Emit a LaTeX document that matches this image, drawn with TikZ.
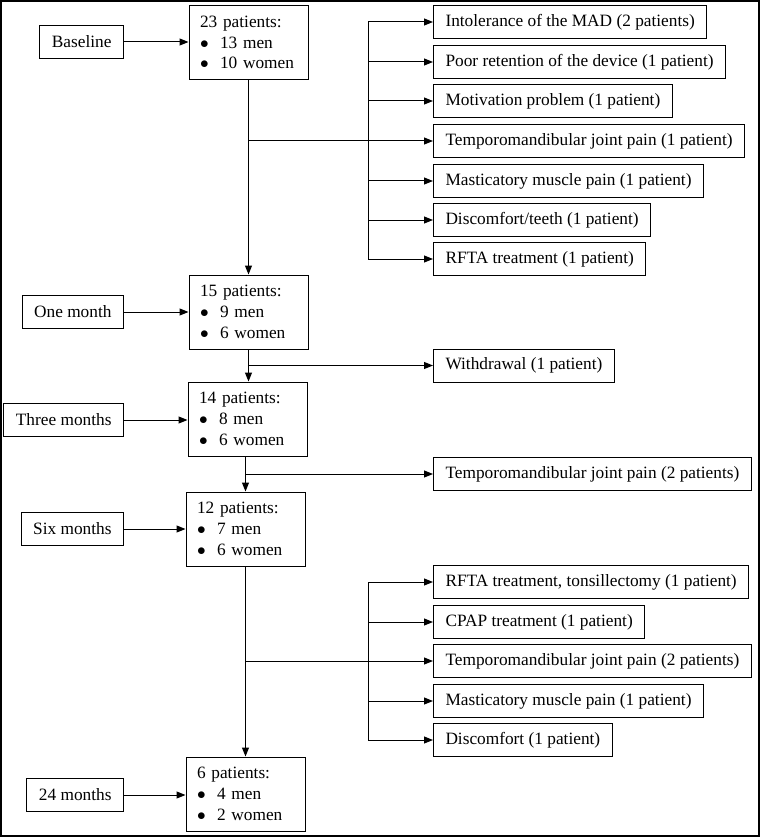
\documentclass[tikz,border=0pt]{standalone}
\usepackage{fontspec}
\setmainfont{Liberation Serif}
\usepackage{tikz}
\usetikzlibrary{arrows.meta}

\tikzset{
  box/.style={draw, line width=1pt, minimum height=33pt, inner xsep=12pt, inner ysep=0pt},
  pbox/.style={draw, line width=1pt, minimum width=119pt, minimum height=74pt, inner xsep=11pt, align=left, text width=97pt},
  arr/.style={line width=1pt, -{Triangle[length=9pt,width=7pt]}},
  ln/.style={line width=1pt}
}
\newcommand{\blt}{\makebox[20pt][l]{$\bullet$}}
\newcommand{\pts}[3]{#1 patients:\\ \blt#2 men\\ \blt#3 women}

\begin{document}
\begin{tikzpicture}[x=1pt,y=-1pt,font=\fontsize{17.3}{20.7}\selectfont]
    \useasboundingbox (0,0) rectangle (760,837);
    \draw[line width=1.2pt] (1,1) rectangle (759,836);

    % time points
    \node[box, anchor=east] (t0)  at (124,42)  {Baseline};
    \node[box, anchor=east] (t1)  at (124,312) {One month};
    \node[box, anchor=east] (t3)  at (124,420) {Three months};
    \node[box, anchor=east] (t6)  at (124,529) {Six months};
    \node[box, anchor=east] (t24) at (124,795) {24 months};

    % patients
    \node[pbox] (p23) at (248.5,42.5) {\pts{23}{13}{10}};
    \node[pbox] (p15) at (248.5,312)  {\pts{15}{9}{6}};
    \node[pbox] (p14) at (247.5,419)  {\pts{14}{8}{6}};
    \node[pbox] (p12) at (245.5,529)  {\pts{12}{7}{6}};
    \node[pbox] (p6)  at (245.5,794)  {\pts{6}{4}{2}};

    \draw[arr] (t0)  -- (t0 -| p23.west);
    \draw[arr] (t1)  -- (t1 -| p15.west);
    \draw[arr] (t3)  -- (t3 -| p14.west);
    \draw[arr] (t6)  -- (t6 -| p12.west);
    \draw[arr] (t24) -- (t24 -| p6.west);

    % first drop-outs
    \node[box, anchor=west] (a1) at (433,22)  {Intolerance of the MAD (2 patients)};
    \node[box, anchor=west] (a2) at (433,62)  {Poor retention of the device (1 patient)};
    \node[box, anchor=west] (a3) at (433,101) {Motivation problem (1 patient)};
    \node[box, anchor=west] (a4) at (433,141) {Temporomandibular joint pain (1 patient)};
    \node[box, anchor=west] (a5) at (433,181) {Masticatory muscle pain (1 patient)};
    \node[box, anchor=west] (a6) at (433,220) {Discomfort/teeth (1 patient)};
    \node[box, anchor=west] (a7) at (433,259) {RFTA treatment (1 patient)};
    \coordinate (ja) at (368,141);

    \draw[arr] (p23.south) -- (p23.south |- p15.north);
    \draw[ln] (p23.south |- ja) -- (ja);
    \draw[ln] (ja |- a1) -- (ja |- a7);
    \draw[arr] (ja |- a1) -- (a1);
    \draw[arr] (ja |- a2) -- (a2);
    \draw[arr] (ja |- a3) -- (a3);
    \draw[arr] (ja |- a4) -- (a4);
    \draw[arr] (ja |- a5) -- (a5);
    \draw[arr] (ja |- a6) -- (a6);
    \draw[arr] (ja |- a7) -- (a7);

    % one and three months
    \node[box, anchor=west] (w1) at (433,365.5) {Withdrawal (1 patient)};
    \node[box, anchor=west] (w3) at (433,474)   {Temporomandibular joint pain (2 patients)};
    \draw[arr] (p15.south) -- (p15.south |- p14.north);
    \draw[arr] (p15.south |- w1) -- (w1);
    \draw[arr] (p14.south -| p12.north) -- (p12.north);
    \draw[arr] (p12.north |- w3) -- (w3);

    % last drop-outs
    \node[box, anchor=west] (b1) at (433,582) {RFTA treatment, tonsillectomy (1 patient)};
    \node[box, anchor=west] (b2) at (433,622) {CPAP treatment (1 patient)};
    \node[box, anchor=west] (b3) at (433,661) {Temporomandibular joint pain (2 patients)};
    \node[box, anchor=west] (b4) at (433,701) {Masticatory muscle pain (1 patient)};
    \node[box, anchor=west] (b5) at (433,740) {Discomfort (1 patient)};
    \coordinate (jb) at (368,661);

    \draw[arr] (p12.south) -- (p6.north);
    \draw[ln] (p12.south |- jb) -- (jb);
    \draw[ln] (jb |- b1) -- (jb |- b5);
    \draw[arr] (jb |- b1) -- (b1);
    \draw[arr] (jb |- b2) -- (b2);
    \draw[arr] (jb |- b3) -- (b3);
    \draw[arr] (jb |- b4) -- (b4);
    \draw[arr] (jb |- b5) -- (b5);
\end{tikzpicture}
\end{document}
